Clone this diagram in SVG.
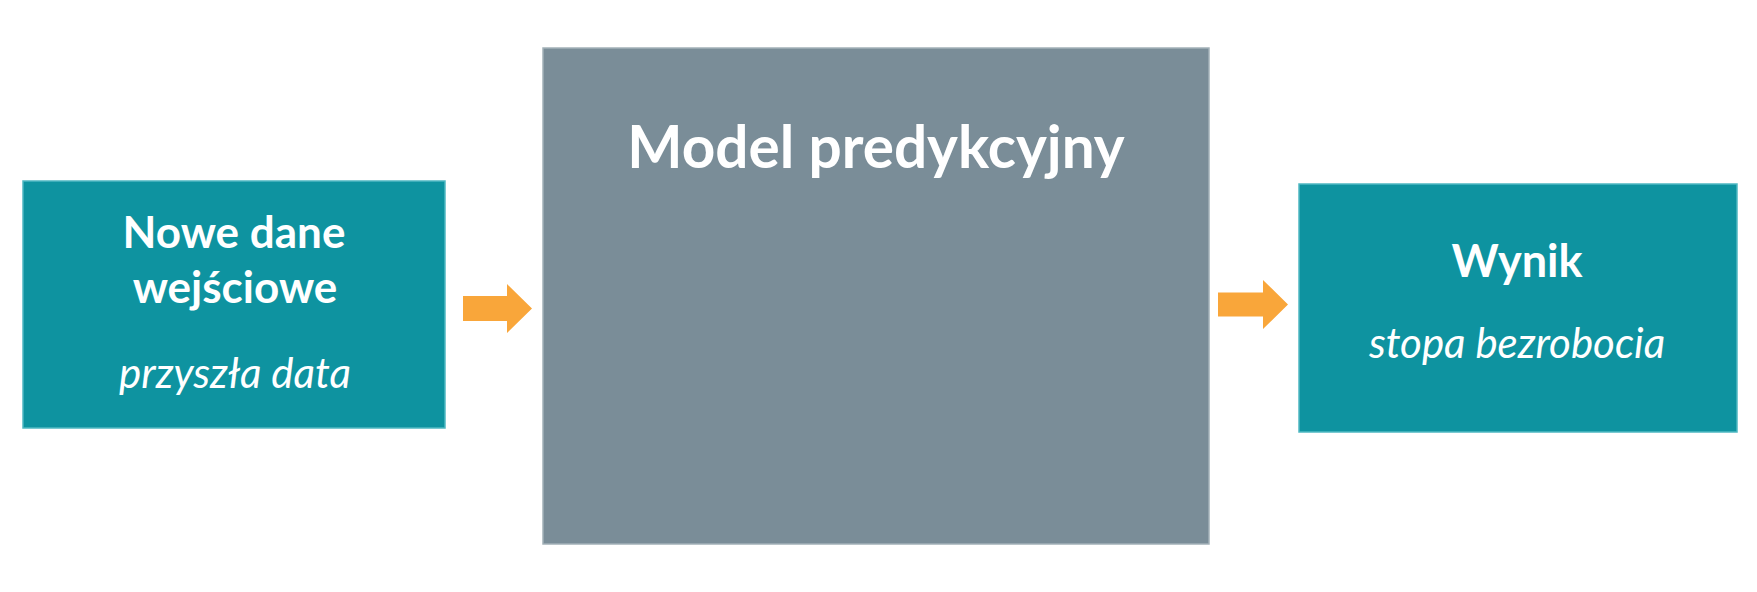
<svg xmlns="http://www.w3.org/2000/svg" width="1757" height="592" viewBox="0 0 1757 592">
<style>
.teal{fill:#0e93a0;stroke:#4fb8c2;stroke-width:1.5}
.gray{fill:#7a8d98;stroke:#a3b1b8;stroke-width:1.5}
.t{font-family:Lato,"Liberation Sans",sans-serif;fill:#ffffff;text-anchor:middle}
.b{font-weight:bold}
.i{font-style:italic}
.arrow{fill:#f9a63a}
</style>
<rect width="1757" height="592" fill="#ffffff"/>
<g id="node-input">
<rect class="teal" x="23" y="181" width="422" height="247"/>
<text class="t b" x="234" y="248" font-size="44">Nowe dane</text>
<text class="t b" x="235" y="303" font-size="44">wejściowe</text>
<text class="t i" x="235" y="388" font-size="42">przyszła data</text>
</g>
<g id="node-model">
<rect class="gray" x="543" y="48" width="666" height="496"/>
<text class="t b" x="876" y="168" font-size="58.5">Model predykcyjny</text>
</g>
<g id="node-output">
<rect class="teal" x="1299" y="184" width="438" height="248"/>
<text class="t b" x="1517" y="277" font-size="45">Wynik</text>
<text class="t i" x="1517" y="358" font-size="42">stopa bezrobocia</text>
</g>
<g id="connectors">
<polygon class="arrow" points="463,296 507,296 507,284 532,308.5 507,333 507,321 463,321"/>
<polygon class="arrow" points="1218,292.5 1263,292.5 1263,280 1288,304.5 1263,329 1263,316.5 1218,316.5"/>
</g>
</svg>
